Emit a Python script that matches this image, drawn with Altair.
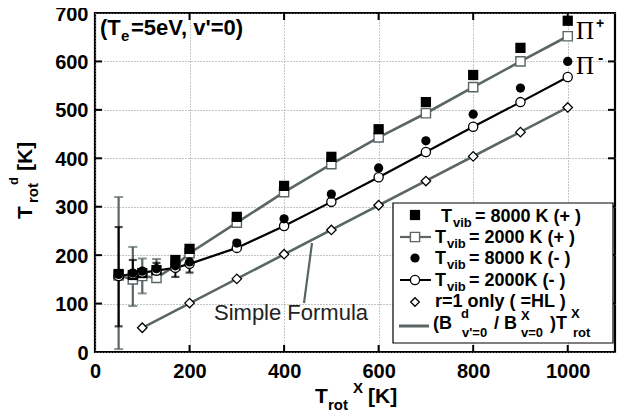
import altair as alt
import pandas as pd

# ---------------- data ----------------
T_ROT_X = [50, 80, 100, 130, 170, 200, 300, 400, 500, 600, 700, 800, 900, 1000]
VIB8000_PLUS = [161, 159, 163, 169, 190, 213, 279, 343, 403, 460, 516, 572, 628, 684]
VIB2000_PLUS = [158, 150, 157, 153, 178, 204, 267, 330, 388, 443, 493, 547, 600, 652]
VIB8000_MINUS = [160, 163, 167, 172, 178, 186, 225, 275, 326, 380, 436, 491, 545, 600]
VIB2000_MINUS = [157, 161, 164, 168, 174, 182, 215, 260, 310, 361, 413, 465, 516, 568]

HL_X = [100, 200, 300, 400, 500, 600, 700, 800, 900, 1000]
HL_Y = [50, 101, 151, 202, 252, 303, 353, 404, 454, 505]

FORMULA_X = [100, 1000]
FORMULA_Y = [50, 505]

ERR_GRAY_X = [50, 80, 100, 130]
ERR_GRAY_LO = [6, 95, 121, 147]
ERR_GRAY_HI = [320, 217, 193, 192]

ERR_BLACK_X = [50, 80, 130, 170, 200, 300]
ERR_BLACK_LO = [53, 143, 160, 155, 164, 211]
ERR_BLACK_HI = [258, 190, 184, 196, 198, 230]

X_TICKS = [0, 200, 400, 600, 800, 1000]
Y_TICKS = [0, 100, 200, 300, 400, 500, 600, 700]

# ---------------- styling ----------------
SANS = "Liberation Sans"
SERIF = "Liberation Serif"
GRAY = "#5a6666"
W, H = 520, 339

x_scale = alt.Scale(domain=[0, 1100], nice=False, zero=False)
y_scale = alt.Scale(domain=[0, 700], nice=False, zero=False)

x_axis = alt.Axis(values=X_TICKS, format="d", labelFont=SANS, labelFontSize=20,
                  labelFontWeight="bold", labelColor="black", labelPadding=9,
                  labelFlush=False, ticks=False, domain=False, grid=True,
                  gridColor="#8a8a8a", gridDash=[1, 2], gridWidth=1, title=None)
y_axis = alt.Axis(values=Y_TICKS, format="d", labelFont=SANS, labelFontSize=20,
                  labelFontWeight="bold", labelColor="black", labelPadding=7,
                  labelOffset=1, labelFlush=False, ticks=False, domain=False, grid=True,
                  gridColor="#8a8a8a", gridDash=[1, 2], gridWidth=1, title=None)


def X(field):
    return alt.X(field, type="quantitative", scale=x_scale, axis=x_axis)


def Y(field):
    return alt.Y(field, type="quantitative", scale=y_scale, axis=y_axis)


series = pd.DataFrame({
    "x": T_ROT_X,
    "p8": VIB8000_PLUS,
    "p2": VIB2000_PLUS,
    "m8": VIB8000_MINUS,
    "m2": VIB2000_MINUS,
})
hl = pd.DataFrame({"x": HL_X, "y": HL_Y})
formula = pd.DataFrame({"x": FORMULA_X, "y": FORMULA_Y})
err_gray = pd.DataFrame({"x": ERR_GRAY_X, "lo": ERR_GRAY_LO, "hi": ERR_GRAY_HI})
err_black = pd.DataFrame({"x": ERR_BLACK_X, "lo": ERR_BLACK_LO, "hi": ERR_BLACK_HI})
caps_gray = pd.DataFrame({"x": ERR_GRAY_X * 2, "y": ERR_GRAY_LO + ERR_GRAY_HI})
caps_black = pd.DataFrame({"x": ERR_BLACK_X * 2, "y": ERR_BLACK_LO + ERR_BLACK_HI})
xt = pd.DataFrame({"v": X_TICKS[1:]})
yt = pd.DataFrame({"v": Y_TICKS[1:-1]})
dummy = pd.DataFrame({"a": [0]})

layers = []

# inside ticks on all four sides
layers.append(alt.Chart(xt).mark_rule(color="black", strokeWidth=2).encode(
    x=X("v"), y=alt.value(H), y2=alt.value(H - 7)))
layers.append(alt.Chart(xt).mark_rule(color="black", strokeWidth=2).encode(
    x=X("v"), y=alt.value(0), y2=alt.value(7)))
layers.append(alt.Chart(yt).mark_rule(color="black", strokeWidth=2).encode(
    y=Y("v"), x=alt.value(0), x2=alt.value(7)))
layers.append(alt.Chart(yt).mark_rule(color="black", strokeWidth=2).encode(
    y=Y("v"), x=alt.value(W), x2=alt.value(W - 7)))

# error bars
layers.append(alt.Chart(err_gray).mark_rule(color=GRAY, strokeWidth=2.2).encode(
    x=X("x"), y=Y("lo"), y2="hi"))
layers.append(alt.Chart(caps_gray).mark_tick(color=GRAY, orient="horizontal", size=9,
                                               thickness=2).encode(x=X("x"), y=Y("y")))
layers.append(alt.Chart(err_black).mark_rule(color="black", strokeWidth=2).encode(
    x=X("x"), y=Y("lo"), y2="hi"))
layers.append(alt.Chart(caps_black).mark_tick(color="black", orient="horizontal", size=8,
                                                thickness=2.2).encode(x=X("x"), y=Y("y")))

# lines
layers.append(alt.Chart(formula).mark_line(color=GRAY, strokeWidth=2.6).encode(
    x=X("x"), y=Y("y")))
layers.append(alt.Chart(series).mark_line(color=GRAY, strokeWidth=2.6).encode(
    x=X("x"), y=Y("p2")))
layers.append(alt.Chart(series).mark_line(color="black", strokeWidth=2.2).encode(
    x=X("x"), y=Y("m2")))

# markers
layers.append(alt.Chart(hl).mark_point(shape="diamond", filled=True, fill="white",
                                       stroke="black", strokeWidth=1.3, size=90, opacity=1).encode(
    x=X("x"), y=Y("y")))
layers.append(alt.Chart(series).mark_point(shape="square", filled=True, fill="white",
                                           stroke=GRAY, strokeWidth=1.4, size=85, opacity=1).encode(
    x=X("x"), y=Y("p2")))
layers.append(alt.Chart(series).mark_point(shape="square", filled=True, color="black",
                                           size=105, opacity=1).encode(x=X("x"), y=Y("p8")))
layers.append(alt.Chart(series).mark_point(shape="circle", filled=True, fill="white",
                                           stroke="black", strokeWidth=1.3, size=85, opacity=1).encode(
    x=X("x"), y=Y("m2")))
layers.append(alt.Chart(series).mark_point(shape="circle", filled=True, color="black",
                                           size=85, opacity=1).encode(x=X("x"), y=Y("m8")))


def txt(s, x, y, size, weight="bold", font=SANS, angle=0, align="left", color="black"):
    return alt.Chart(dummy).mark_text(text=s, fontSize=size, fontWeight=weight, font=font,
                                      angle=angle, align=align, baseline="alphabetic",
                                      color=color).encode(x=alt.value(x), y=alt.value(y))


def sym(shape, x, y, size, fill, stroke, sw=1.3):
    return alt.Chart(dummy).mark_point(shape=shape, filled=True, fill=fill, stroke=stroke,
                                       strokeWidth=sw, size=size, opacity=1).encode(
        x=alt.value(x), y=alt.value(y))


def hline(x1, x2, y, color, sw):
    return alt.Chart(dummy).mark_rule(color=color, strokeWidth=sw).encode(
        x=alt.value(x1), x2=alt.value(x2), y=alt.value(y))


# "Simple Formula" annotation with pointer
layers.append(alt.Chart(dummy).mark_rule(color=GRAY, strokeWidth=2.2).encode(
    x=alt.value(217), y=alt.value(230), x2=alt.value(209), y2=alt.value(290)))
layers.append(txt("Simple Formula", 119, 307, 22, weight="normal", color="#222222"))

# Pi labels
layers.append(txt("\u03a0", 481, 26, 25, weight="normal", font=SERIF))
layers.append(txt("+", 501, 15, 14))
layers.append(txt("\u03a0", 481, 61, 25, weight="normal", font=SERIF))
layers.append(txt("-", 503, 50, 16))

# top-left condition label
layers.append(txt("(T", 5, 22, 22))
layers.append(txt("e", 26, 28, 15))
layers.append(txt("=5eV, v'=0)", 36, 22, 22))

# legend box
layers.append(alt.Chart(dummy).mark_rect(fill="white", stroke="black", strokeWidth=1.2).encode(
    x=alt.value(298), x2=alt.value(518), y=alt.value(190), y2=alt.value(330)))

# legend symbols
SX = 320
layers.append(sym("square", SX, 202, 105, "black", "black", 0))
layers.append(hline(305, 336, 224, GRAY, 2.2))
layers.append(sym("square", SX, 224, 85, "white", GRAY, 1.4))
layers.append(sym("circle", SX, 245, 85, "black", "black", 0))
layers.append(hline(305, 336, 267, "black", 2.0))
layers.append(sym("circle", SX, 267, 85, "white", "black", 1.3))
layers.append(sym("diamond", SX, 289, 75, "white", "black", 1.3))
layers.append(hline(304, 334, 313, GRAY, 3.0))

# legend texts
LS, SS = 18, 13
layers += [
    txt("T", 346, 209, LS), txt("vib", 358, 214, SS), txt("= 8000 K (+ )", 380, 209, LS),
    txt("T", 340, 230, LS), txt("vib", 352, 235, SS), txt("= 2000 K  (+ )", 374, 230, LS),
    txt("T", 340, 251, LS), txt("vib", 352, 256, SS), txt("= 8000 K (- )", 374, 251, LS),
    txt("T", 340, 273, LS), txt("vib", 352, 278, SS), txt("= 2000K  (- )", 374, 273, LS),
    txt("r=1 only ( =HL )", 340, 294, LS),
    txt("(B", 338, 316, LS), txt("d", 366, 305, SS), txt("v'=0", 367, 324, SS),
    txt("/ B", 399, 316, LS), txt("X", 426, 307, SS), txt("v=0", 426, 324, SS),
    txt(")T", 455, 316, LS), txt("X", 476, 305, SS), txt("rot", 478, 324, SS),
]

# x-axis title  T_rot^X [K]
layers += [
    txt("T", 220, 390, 21), txt("rot", 233, 397, 15), txt("X", 258, 380, 15),
    txt("[K]", 273, 390, 21),
]

# y-axis title  T_rot^d [K]  (rotated)
layers += [
    txt("T", -63, 206, 21, angle=270), txt("rot", -57, 190, 15, angle=270),
    txt("d", -77, 172, 13, angle=270), txt("[K]", -63, 158, 21, angle=270),
]

chart = alt.layer(*layers).properties(
    width=W, height=H,
    autosize=alt.AutoSizeParams(type="none"),
    padding={"left": 87, "top": 5, "right": 4, "bottom": 59},
).configure_view(stroke="black", strokeWidth=2.2)

chart.save("out.html", embed_options={"renderer": "svg", "actions": False})
